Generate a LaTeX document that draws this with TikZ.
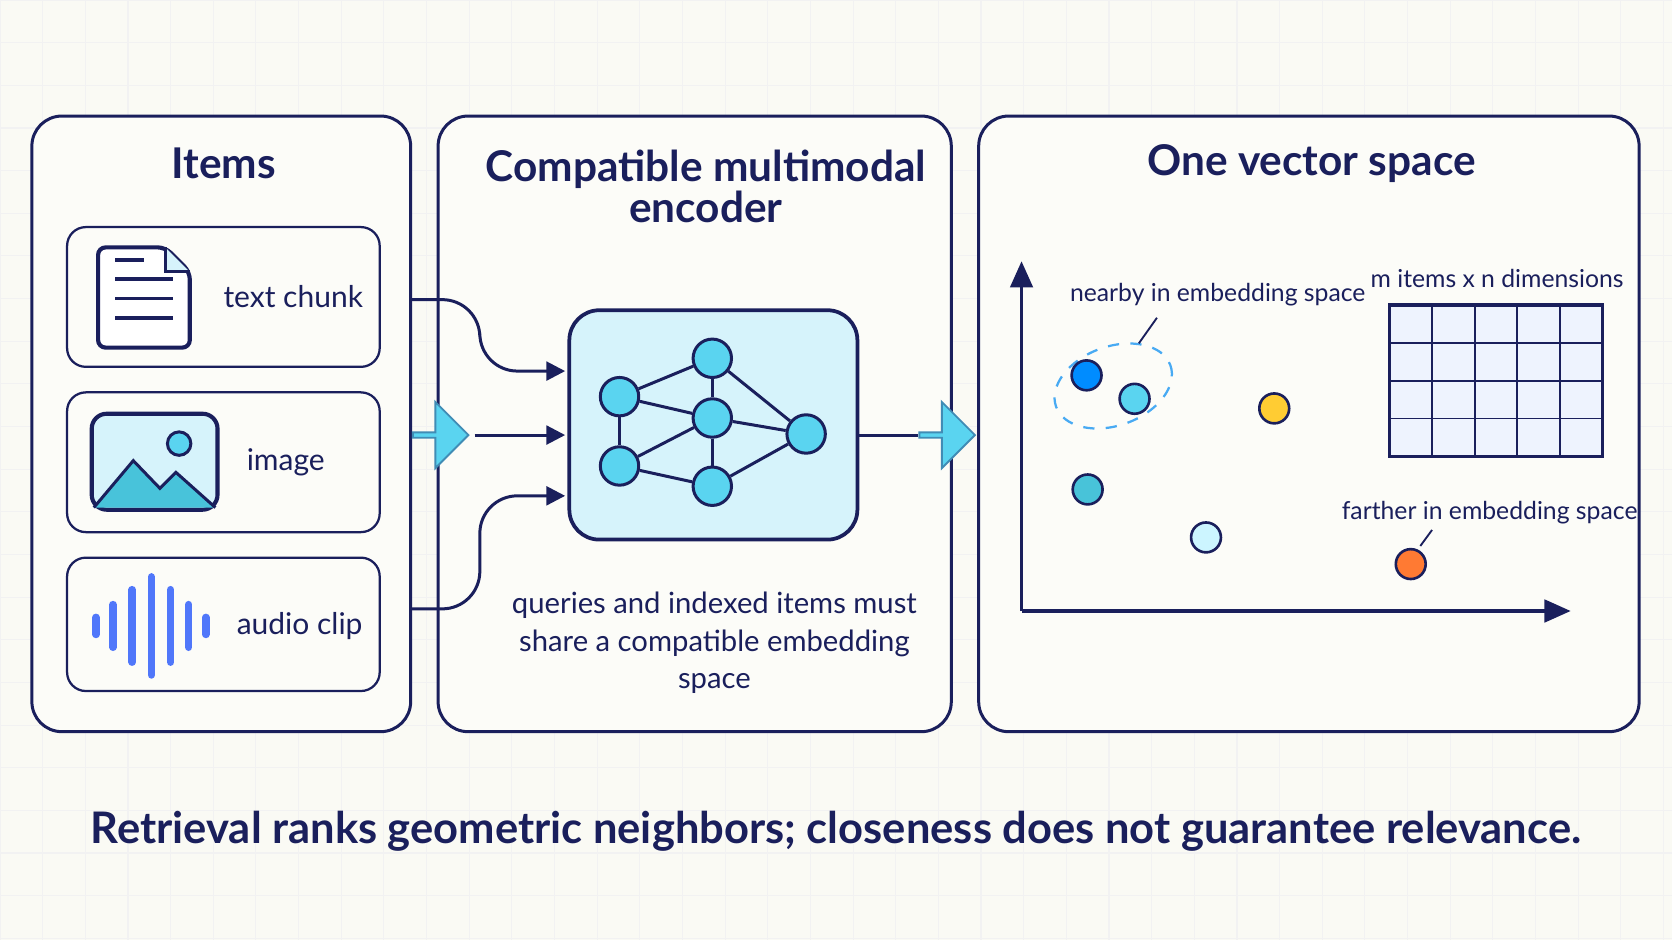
\documentclass[tikz,border=0pt]{standalone}
\usepackage{fontspec}
\setmainfont{Lato}
\usetikzlibrary{arrows.meta,shapes.arrows}
\definecolor{navy}{HTML}{1A1F5C}
\definecolor{bg}{HTML}{FAFAF4}
\definecolor{cy}{HTML}{5AD4F0}
\definecolor{cyfill}{HTML}{D6F3FB}
\definecolor{boxfill}{HTML}{FCFCF8}
\begin{document}
\begin{tikzpicture}[x=0.01cm,y=-0.01cm,
 panel/.style={draw=navy,line width=0.8pt,rounded corners=8pt,fill=boxfill},
 item/.style={draw=navy,line width=0.6pt,rounded corners=5pt,fill=boxfill},
 title/.style={font=\fontsize{11.3}{12.8}\selectfont\bfseries,text=navy,align=center},
 lab/.style={font=\fontsize{8}{10}\selectfont,text=navy},
 small/.style={font=\fontsize{6.6}{8}\selectfont,text=navy},
 nn/.style={circle,draw=navy,line width=0.8pt,fill=cy,minimum size=0.36cm,inner sep=0},
 dot/.style={circle,draw=navy,line width=0.7pt,minimum size=0.28cm,inner sep=0},
 arr/.style={draw=navy,line width=0.8pt,-{Triangle[length=5pt,width=5pt]}},
 blk/.style={single arrow,draw=cy!60!navy,fill=cy,line width=0.5pt,minimum height=0.52cm,single arrow head extend=0.1cm,minimum width=0.62cm,inner sep=0},
 nl/.style={navy,line width=0.8pt}]
\useasboundingbox[fill=bg] (0,0) rectangle (1568,882);
\foreach \x in {0,40,...,1568} \draw[black!5,line width=0.3pt] (\x,0) -- (\x,882);
\foreach \y in {0,40,...,880} \draw[black!5,line width=0.3pt] (0,\y) -- (1568,\y);
% panels
\node[panel,minimum width=3.55cm,minimum height=5.77cm] (p1) at (207.5,397.5) {};
\node[panel,minimum width=4.81cm,minimum height=5.77cm] (p2) at (651.5,397.5) {};
\node[panel,minimum width=6.19cm,minimum height=5.77cm] (p3) at (1227.5,397.5) {};
\node[title] (t1) at (210,153) {Items};
\node[title] (t2) at (662,175) {Compatible multimodal\\[-2pt]encoder};
\node[title] (t3) at (1230,153) {One vector space};
% items
\node[item,minimum width=2.93cm,minimum height=1.31cm] (i1) at (209.5,278.5) {};
\node[item,minimum width=2.93cm,minimum height=1.31cm] (i2) at (209.5,433.5) {};
\node[item,minimum width=2.93cm,minimum height=1.25cm] (i3) at (209.5,585.5) {};
\node[lab] (l1) at (275,278) {text chunk};
\node[lab] (l2) at (268,434) {image};
\node[lab] (l3) at (281,587) {audio clip};
% doc icon
\draw[navy,line width=1.1pt,fill=white,rounded corners=2pt] (92,232) -- (155,232) -- (178,255) -- (178,326) -- (92,326) -- cycle;
\draw[navy,line width=0.8pt,fill=cyfill] (155,232) -- (155,255) -- (178,255);
\foreach \y in {262,280,298}\draw[navy,line width=1pt] (108,\y) -- (162,\y);
\draw[navy,line width=1pt] (108,244) -- (135,244);
% image icon
\draw[navy,line width=1.1pt,fill=cyfill,rounded corners=4pt] (86,388) rectangle (204,478);
\fill[cy!80!teal] (88,476) -- (125,432) -- (150,458) -- (165,443) -- (202,476) -- cycle;
\draw[navy,line width=0.8pt] (88,476) -- (125,432) -- (150,458) -- (165,443) -- (202,476);
\draw[navy,line width=0.8pt,fill=cy] (168,416) circle (11);
% audio bars
\foreach \x/\h in {90/8,106/20,124/34,142/46,160/34,177/20,193/8}
 \draw[cy!40!blue!80,line width=2pt,line cap=round] (\x,587-\h) -- (\x,587+\h);
% encoder
\node[draw=navy,line width=1pt,rounded corners=8pt,fill=cyfill,minimum width=2.7cm,minimum height=2.15cm] (enc) at (669,398.5) {};
\node[nn] (a) at (581,372) {};
\node[nn] (b) at (581,437) {};
\node[nn] (c) at (668,336) {};
\node[nn] (d) at (668,392) {};
\node[nn] (e) at (668,456) {};
\node[nn] (f) at (756,407) {};
\foreach \u/\v in {a/c,a/d,a/b,b/d,b/e,c/d,d/e,c/f,d/f,e/f} \draw[nl] (\u) -- (\v);
% connectors to encoder
\coordinate (s1) at (386,281); \coordinate (s3) at (386,571);
\coordinate (e1) at (530,348); \coordinate (e2) at (530,408); \coordinate (e3) at (530,465);
\coordinate (s2) at (445,408);
\draw[arr,rounded corners=10pt] (s1) -- (450,281) -- (450,348) -- (e1);
\draw[arr] (s2) -- (e2);
\draw[arr,rounded corners=10pt] (s3) -- (450,571) -- (450,465) -- (e3);
\node[blk] (b1) at (412,408) {};
\node[blk] (b2) at (887,408) {};
\draw[nl] (enc.east |- b2.west) -- (b2.west);
\node[lab,align=center,font=\fontsize{7.8}{10}\selectfont] (cap) at (670,603) {queries and indexed items must\\share a compatible embedding\\space};
% axes
\coordinate (org) at (958,573);
\coordinate (yt) at (958,245); \coordinate (xt) at (1473,573);
\draw[navy,line width=0.9pt,-{Triangle[length=7pt,width=6pt]}] (org) -- (yt);
\draw[navy,line width=0.9pt,-{Triangle[length=7pt,width=6pt]}] (org) -- (xt);
\draw[cy!80!blue,line width=0.6pt,dashed,rotate around={20:(1044,362)}] (1044,362) ellipse (57 and 37);
\node[dot,fill=blue!45!cyan] (d1) at (1019,352) {};
\node[dot,fill=cy] (d2) at (1064,374) {};
\node[dot,fill=orange!50!yellow!80] (d3) at (1195,383) {};
\node[dot,fill=cy!80!teal] (d4) at (1020,459) {};
\node[dot,fill=blue!20!cyan!20] (d5) at (1131,504) {};
\node[dot,fill=orange!70!red!80] (d6) at (1323,529) {};
\node[small] (near) at (1142,276) {nearby in embedding space};
\coordinate (nk) at (1068,322);
\draw[navy,line width=0.5pt] (1085,298) -- (nk);
\node[small] (far) at (1397,481) {farther in embedding space};
\coordinate (fk) at (1332,512);
\draw[navy,line width=0.5pt] (1343,497) -- (fk);
\node[small] (mn) at (1404,261) {m items x n dimensions};
\fill[cyfill!80!blue!20] (1303,286) rectangle (1503,428);
\foreach \x in {1343,1383,1423,1463} \draw[navy,line width=0.5pt] (\x,286) -- (\x,428);
\foreach \y in {321.5,357,392.5} \draw[navy,line width=0.5pt] (1303,\y) -- (1503,\y);
\draw[navy,line width=0.9pt] (1303,286) rectangle (1503,428);
\node[font=\fontsize{11.6}{13}\selectfont\bfseries,text=navy] (bot) at (784,780) {Retrieval ranks geometric neighbors; closeness does not guarantee relevance.};
\end{tikzpicture}
\end{document}
